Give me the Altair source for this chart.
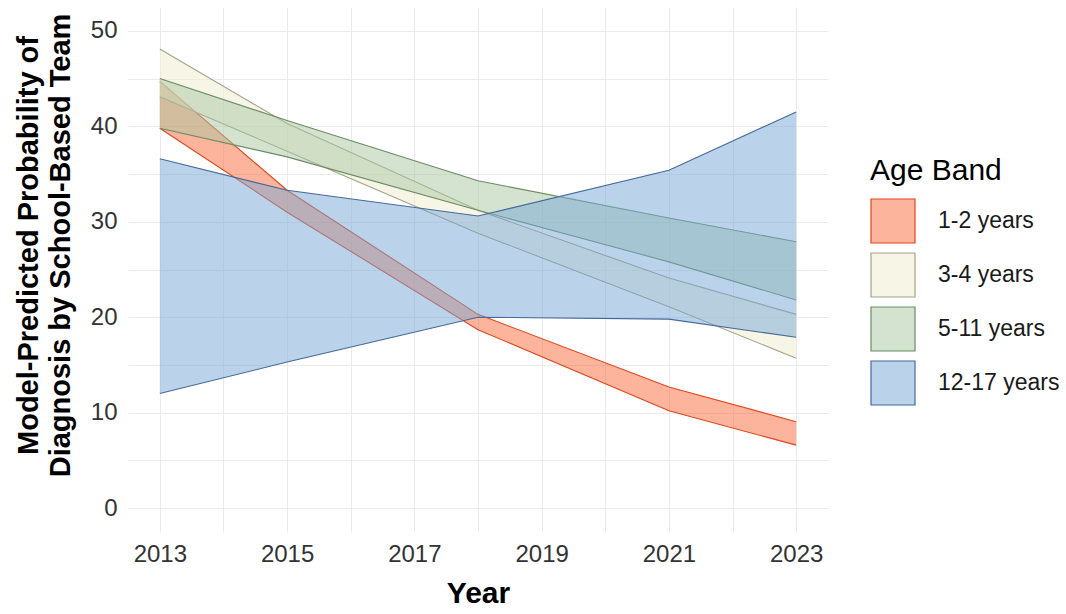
import altair as alt
import pandas as pd

# Prediction years and the age bands shown
years = [2013, 2015, 2018, 2021, 2023]
bands = ["1-2 years", "3-4 years", "5-11 years", "12-17 years"]

# Lower / upper bounds of the predicted probability (%) for each band
lo_1_2 = [39.8, 31.0, 18.7, 10.2, 6.6]
hi_1_2 = [44.7, 33.3, 20.3, 12.7, 9.05]
lo_3_4 = [43.1, 37.4, 28.8, 21.1, 15.7]
hi_3_4 = [48.1, 40.3, 31.2, 24.1, 20.3]
lo_5_11 = [39.8, 36.8, 31.2, 25.8, 21.8]
hi_5_11 = [45.0, 40.6, 34.3, 30.4, 27.9]
lo_12_17 = [12.0, 15.3, 20.0, 19.8, 17.9]
hi_12_17 = [36.6, 33.3, 30.6, 35.4, 41.5]

lows = [lo_1_2, lo_3_4, lo_5_11, lo_12_17]
highs = [hi_1_2, hi_3_4, hi_5_11, hi_12_17]

fill_colors = ["#FA6A3C", "#EFEBCD", "#A7C7A1", "#77A7D5"]
line_colors = ["#E2451B", "#A3A28A", "#6B8C64", "#45699A"]
swatch_colors = ["#FDB49D", "#F7F5E6", "#D3E3D0", "#BBD3EA"]

FONT = "Liberation Sans"

x_scale = alt.Scale(domain=[2012.5, 2023.5], nice=False, zero=False)
y_scale = alt.Scale(domain=[-2.5, 52.5], nice=False, zero=False)

x_axis = alt.Axis(
    values=list(range(2013, 2024)),
    labelExpr="datum.value % 2 == 1 ? datum.label : ''",
    format="d",
    domain=False,
    ticks=False,
    grid=True,
    gridColor="#EBEBEB",
    gridWidth=1,
    labelFont=FONT,
    labelFontSize=24,
    labelColor="#333333",
    labelPadding=10,
    title="Year",
    titleFont=FONT,
    titleFontSize=30,
    titleFontWeight="bold",
    titleColor="#000000",
    titleBaseline="alphabetic",
    titleY=70,
)

y_axis = alt.Axis(
    values=list(range(0, 55, 5)),
    labelExpr="datum.value % 10 == 0 ? datum.label : ''",
    domain=False,
    ticks=False,
    grid=True,
    gridColor="#EBEBEB",
    gridWidth=1,
    labelFont=FONT,
    labelFontSize=24,
    labelColor="#333333",
    labelPadding=11,
    title=["Model-Predicted Probability of", "Diagnosis by School-Based Team"],
    titleFont=FONT,
    titleFontSize=29,
    titleFontWeight="bold",
    titleColor="#000000",
    titleAngle=270,
    titleAlign="center",
    titleBaseline="top",
    titleLineHeight=32,
    titleX=-114,
    titleY=238,
)

layers = []
for i, band in enumerate(bands):
    df = pd.DataFrame({"year": years, "lo": lows[i], "hi": highs[i]})
    base = alt.Chart(df)
    area = base.mark_area(fill=fill_colors[i], fillOpacity=0.5, strokeWidth=0).encode(
        x=alt.X("year:Q", scale=x_scale, axis=x_axis),
        y=alt.Y("lo:Q", scale=y_scale, axis=y_axis),
        y2="hi:Q",
    )
    lower = base.mark_line(color=line_colors[i], strokeWidth=1.1).encode(
        x=alt.X("year:Q", scale=x_scale, axis=x_axis),
        y=alt.Y("lo:Q", scale=y_scale, axis=y_axis),
    )
    upper = base.mark_line(color=line_colors[i], strokeWidth=1.1).encode(
        x=alt.X("year:Q", scale=x_scale, axis=x_axis),
        y=alt.Y("hi:Q", scale=y_scale, axis=y_axis),
    )
    layers += [area, lower, upper]

legend = alt.Legend(
    title="Age Band",
    titleFont=FONT,
    titleFontSize=30,
    titleFontWeight="normal",
    titleColor="#000000",
    titlePadding=12,
    labelFont=FONT,
    labelFontSize=23,
    labelColor="#1A1A1A",
    labelOffset=22,
    symbolType="square",
    symbolSize=1936,
    symbolStrokeWidth=1.2,
    rowPadding=4,
    padding=0,
    orient="none",
    legendX=742,
    legendY=149,
)

# Key for the four bands (no marks drawn, only the legend)
key = (
    alt.Chart(pd.DataFrame({"band": bands}))
    .mark_point(shape="square", filled=True, opacity=1)
    .encode(
        fill=alt.Fill("band:N", scale=alt.Scale(domain=bands, range=swatch_colors), legend=legend),
        stroke=alt.Stroke("band:N", scale=alt.Scale(domain=bands, range=line_colors), legend=legend),
    )
    .transform_filter("false")
)

chart = (
    alt.layer(*layers, key)
    .properties(
        width=700,
        height=525,
        padding={"left": 128, "top": 7, "right": 238, "bottom": 82},
        autosize=alt.AutoSizeParams(type="none"),
        background="white",
    )
    .configure_view(stroke=None)
)

chart.save("out.html", embed_options={"renderer": "svg", "actions": False})
